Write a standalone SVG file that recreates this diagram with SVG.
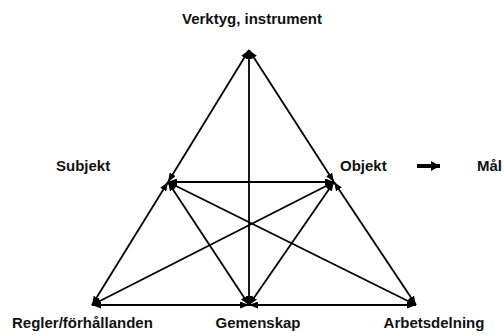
<svg xmlns="http://www.w3.org/2000/svg" width="504" height="336" viewBox="0 0 504 336">
<style>
text{font-family:"Liberation Sans",Arial,sans-serif;font-weight:bold;font-size:15px;fill:#111}
.c line{stroke:#000;stroke-width:1.8;marker-start:url(#ah);marker-end:url(#ah)}
</style>
<defs>
<marker id="ah" markerUnits="userSpaceOnUse" markerWidth="9" markerHeight="7" refX="9" refY="3.5" orient="auto-start-reverse">
<path d="M0,0 L9,3.5 L0,7 z" fill="#000"/>
</marker>
<marker id="big" markerUnits="userSpaceOnUse" markerWidth="9" markerHeight="10" refX="9" refY="5" orient="auto">
<path d="M0,0 L9,5 L0,10 z" fill="#000"/>
</marker>
</defs>
<rect width="504" height="336" fill="#fff"/>
<g id="connectors" class="c">
<line x1="249" y1="50" x2="168" y2="182"/>
<line x1="168" y1="182" x2="92" y2="305"/>
<line x1="249" y1="50" x2="334" y2="182"/>
<line x1="334" y1="182" x2="416" y2="305"/>
<line x1="92" y1="305" x2="249" y2="305"/>
<line x1="249" y1="305" x2="416" y2="305"/>
<line x1="249" y1="50" x2="249" y2="305"/>
<line x1="168" y1="182" x2="334" y2="182"/>
<line x1="168" y1="182" x2="249" y2="305"/>
<line x1="168" y1="182" x2="416" y2="305"/>
<line x1="334" y1="182" x2="92" y2="305"/>
<line x1="334" y1="182" x2="249" y2="305"/>
<path d="M417,166 H440" stroke="#000" stroke-width="4" fill="none" marker-end="url(#big)"/>
</g>
<g id="verktyg"><text x="252" y="24" text-anchor="middle">Verktyg, instrument</text></g>
<g id="subjekt"><text x="56" y="171">Subjekt</text></g>
<g id="objekt"><text x="340" y="171">Objekt</text></g>
<g id="mal"><text x="477" y="171">Mål</text></g>
<g id="regler"><text x="12" y="328">Regler/förhållanden</text></g>
<g id="gemenskap"><text x="258" y="328" text-anchor="middle">Gemenskap</text></g>
<g id="arbetsdelning"><text x="434" y="328" text-anchor="middle">Arbetsdelning</text></g>
</svg>
